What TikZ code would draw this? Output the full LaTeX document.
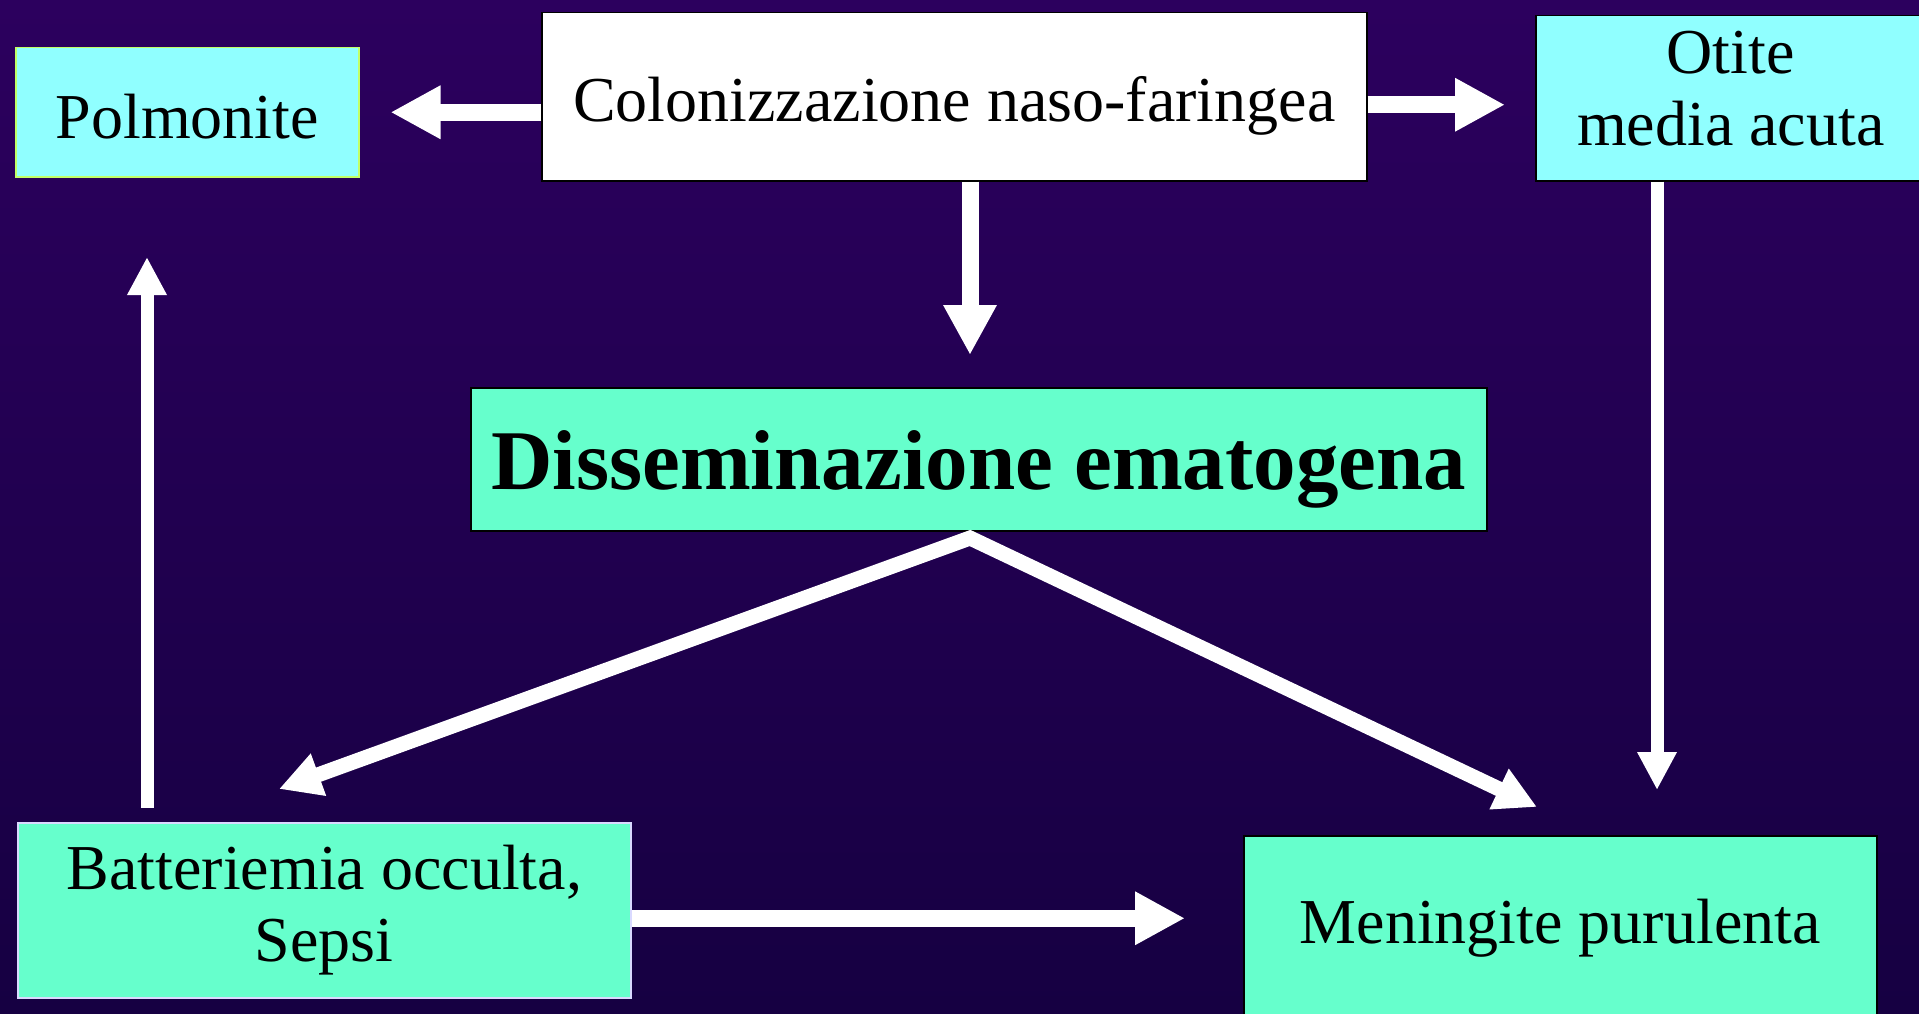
\documentclass[tikz,border=0pt]{standalone}
\usepackage{fontspec}
\setmainfont{Liberation Serif}
\usetikzlibrary{positioning}
\usetikzlibrary{arrows.meta}

\definecolor{bgtop}{RGB}{44,0,94}
\definecolor{bgbot}{RGB}{22,0,66}
\definecolor{skyfill}{RGB}{144,255,255}
\definecolor{aquafill}{RGB}{102,255,204}

\begin{document}
\begin{tikzpicture}[
        x = 1pt, y = -1pt,
        box/.style = {
            draw = black,
            line width = 1.5pt,
            fill = #1,
            anchor = north west,
            inner sep = 0pt,
            align = center,
            font = \fontsize{64}{72}\selectfont
        },
        box/.default = white,
        arr/.style = {
            draw = white,
            line width = 17pt,
            -{Triangle[length=50pt, width=50pt]}
        },
        thinarr/.style = {
            draw = white,
            line width = 13pt,
            -{Triangle[length=38pt, width=37pt]}
        }
    ]
    \useasboundingbox (0,0) rectangle (1919,1014);
    \shade[top color=bgtop, bottom color=bgbot] (0,0) rectangle (1919,1014);

    \node[box, minimum width=825pt, minimum height=168pt, text height=64pt, text depth=14pt] (colon) at (541,12) {Colonizzazione naso-faringea};
    \node[box=skyfill, draw=green!40!yellow!60, minimum width=343pt, minimum height=129pt, text height=52pt, text depth=0pt] (polm) at (15,47) {Polmonite};
    \node[box=skyfill, minimum width=390pt, minimum height=165pt, text depth=20pt] (otite) at (1535,15) {Otite\\media acuta};
    \node[box=aquafill, minimum width=1016pt, minimum height=143pt, text height=79pt, text depth=18pt, font=\fontsize{85}{95}\selectfont\bfseries] (dissem) at (470,387) {Disseminazione ematogena};
    \node[box=aquafill, draw=white!85!blue, minimum width=613pt, minimum height=175pt] (batt) at (17,822) {Batteriemia occulta,\\Sepsi};
    \node[box=aquafill, minimum width=633pt, minimum height=184pt] (men) at (1243,835) {Meningite purulenta};

    \coordinate (apex) at (970,538);
    \coordinate (battin) at (279,789);
    \coordinate (menin) at (1537,807);
    \coordinate (otdown) at (1657,790);
    \coordinate (polmup) at (147,257);

    % dalla colonizzazione
    \draw[arr, shorten >=31pt] (colon.west |- polm.east) -- (polm.east);
    \draw[arr, shorten >=30pt] ([yshift=-8pt]colon.east) -- ([yshift=-8pt]colon.east -| otite.west);
    \draw[arr, shorten >=32pt] (apex |- colon.south) -- (apex |- dissem.north);

    % disseminazione
    \draw[white, line width=15pt, line join=miter,
        {Triangle[length=42pt, width=42pt]}-{Triangle[length=42pt, width=42pt]}] (battin) -- (apex) -- (menin);

    \draw[thinarr] (otdown |- otite.south) -- (otdown);
    \draw[thinarr, shorten <=14pt] (polmup |- batt.north) -- (polmup);
    \draw[arr, shorten >=58pt] ([yshift=-8pt]batt.east) -- ([yshift=-8pt]batt.east -| men.west);

\end{tikzpicture}
\end{document}
